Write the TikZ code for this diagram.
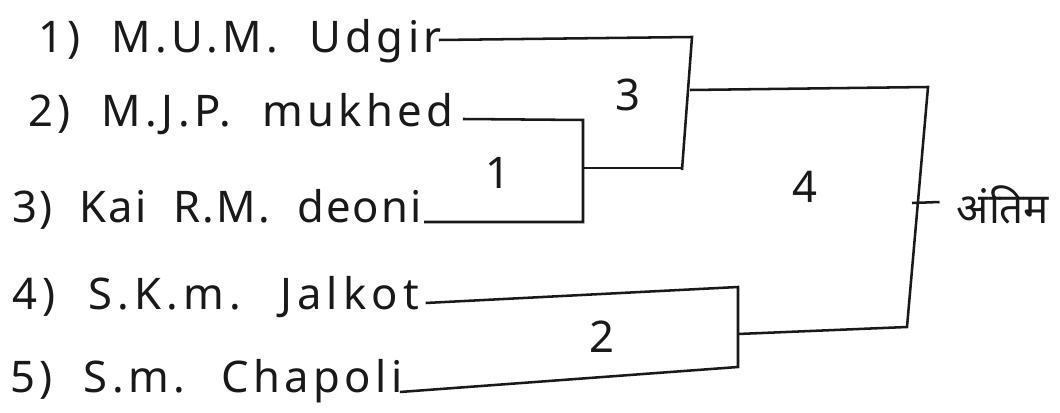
\documentclass[tikz,border=0pt]{standalone}
\usepackage{fontspec}
\setmainfont[LetterSpace=10,WordSpace=2]{Noto Sans}
\newfontfamily\devfont[Script=Devanagari]{Noto Sans}

\begin{document}
\begin{tikzpicture}[x=0.025cm,y=-0.025cm,font=\fontsize{31}{36}\selectfont,
  site/.style={anchor=base west,inner sep=0pt,text=black!90},
  score/.style={inner sep=0pt,text=black!90},
  link/.style={line width=1.8pt,draw=black!90,line join=miter}]
\useasboundingbox[fill=white] (0,0) rectangle (1060,413);
% sites
\node[site] (udgir) at (38,53) {1) M.U.M. Udgir};
\node[site] (mukhed) at (28,127) {2) M.J.P. mukhed};
\node[site,font=\fontsize{31}{36}\selectfont\addfontfeatures{LetterSpace=5}]
  (deoni) at (12,223) {3) Kai R.M. deoni};
\node[site,font=\fontsize{31}{36}\selectfont\addfontfeatures{LetterSpace=12}]
  (jalkot) at (12,310) {4) S.K.m. Jalkot};
\node[site] (chapoli) at (10,392) {5) S.m. Chapoli};
% merge levels
\node[score] (lvlone) at (498,173) {1};
\node[score] (lvltwo) at (602,337) {2};
\node[score] (lvlthree) at (628,95) {3};
\node[score] (lvlfour) at (805,187) {4};
\node[score,font=\devfont\fontsize{30}{34}\selectfont] (final) at (1003,205) {अंतिम};
% bracket corners
\coordinate (b1t) at (583,120);
\coordinate (b1b) at (583,222);
\coordinate (b1m) at (583,168);
\coordinate (b2t) at (738,287);
\coordinate (b2b) at (738,367);
\coordinate (b2m) at (738,334);
\coordinate (b3t) at (692,37);
\coordinate (b3b) at (682,170);
\coordinate (b3j) at (682,168);
\coordinate (b3m) at (690,90);
\coordinate (b4t) at (928,87);
\coordinate (b4b) at (907,327);
\coordinate (b4m) at (912,203);
% brackets
\draw[link] ([shift={(9,-8)}]mukhed.base east) -- (b1t) -- (b1b)
  -- ([shift={(2,-1)}]deoni.base east);
\draw[link] (b1m) -- (b3j);
\draw[link] ([shift={(-3,-13)}]udgir.base east) -- (b3t) -- (b3b);
\draw[link] ([shift={(6,-7)}]jalkot.base east) -- (b2t) -- (b2b)
  -- ([shift={(-3,0)}]chapoli.base east);
\draw[link] (b3m) -- (b4t) -- (b4b) -- (b2m);
\draw[link] (b4m) -- ([shift={(-17,-3)}]final.west);
\end{tikzpicture}
\end{document}
